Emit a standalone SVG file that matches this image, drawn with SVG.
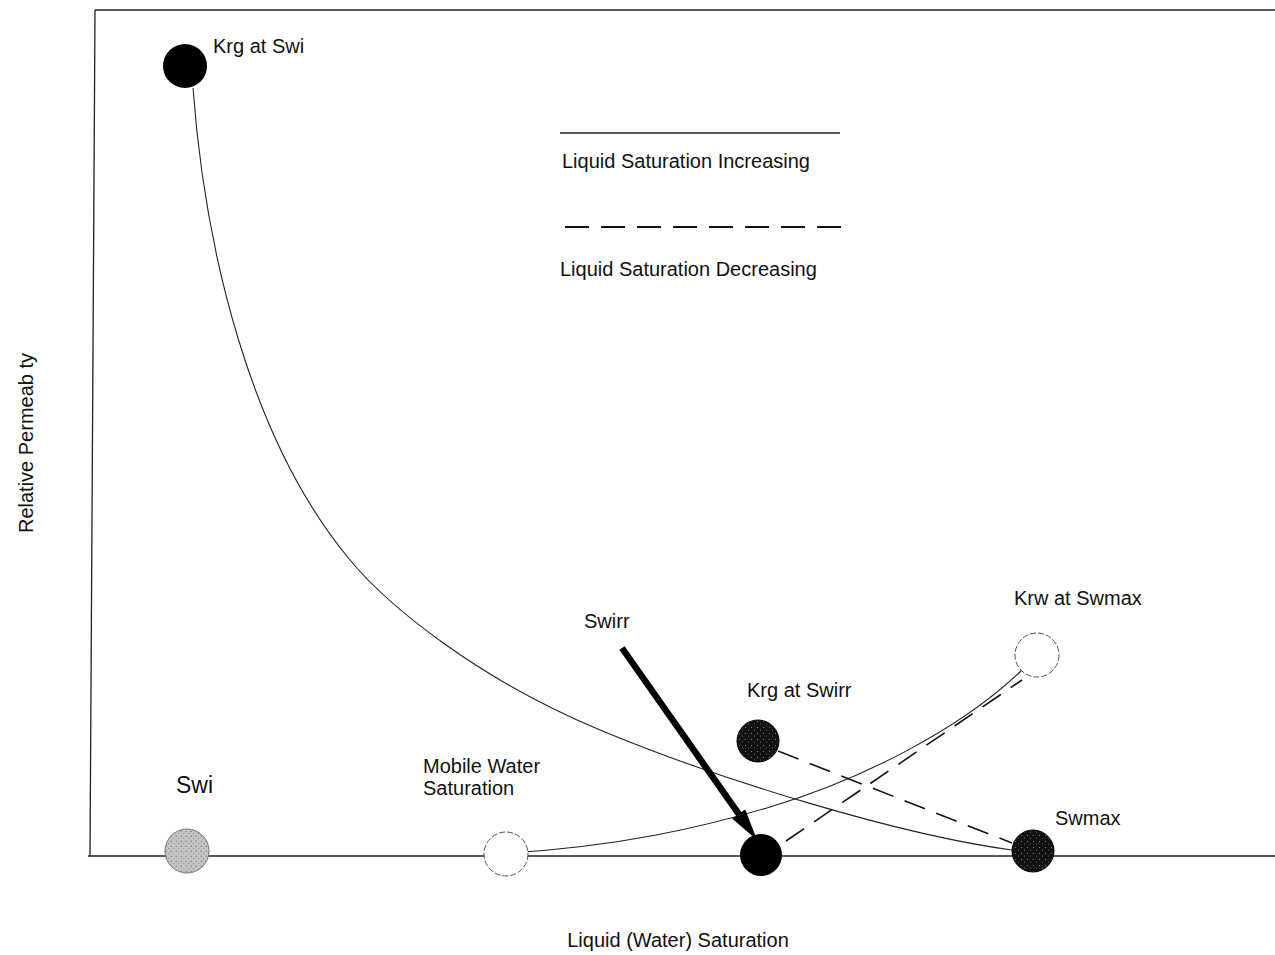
<svg xmlns="http://www.w3.org/2000/svg" width="1275" height="955" viewBox="0 0 1275 955">
  <style>
    .t { font-family: "Liberation Sans", Arial, sans-serif; font-size: 20px; fill: #111; }
    .axis { stroke: #222; stroke-width: 1.3; fill: none; }
    .curve { stroke: #222; stroke-width: 1.1; fill: none; }
    .dash { stroke: #111; stroke-width: 1.6; fill: none; stroke-dasharray: 22 12; }
    .black { fill: #000; }
    .open { fill: #fff; stroke: #555; stroke-width: 1; stroke-dasharray: 6 2; }
  </style>
  <defs>
    <pattern id="speck" width="6" height="6" patternUnits="userSpaceOnUse">
      <rect width="6" height="6" fill="#111"/>
      <circle cx="1.5" cy="1.5" r="0.6" fill="#888"/>
      <circle cx="4.5" cy="4" r="0.5" fill="#777"/>
    </pattern>
    <pattern id="grayspeck" width="5" height="5" patternUnits="userSpaceOnUse">
      <rect width="5" height="5" fill="#c4c4c4"/>
      <circle cx="1.2" cy="1.2" r="0.8" fill="#888"/>
      <circle cx="3.7" cy="3.5" r="0.7" fill="#999"/>
    </pattern>
    <marker id="head" viewBox="0 0 32 16" markerUnits="userSpaceOnUse" markerWidth="32" markerHeight="16" refX="16" refY="8" orient="auto">
      <path d="M0,0 L32,8 L0,16 z" fill="#000"/>
    </marker>
  </defs>

  <g id="frame">
    <line class="axis" x1="95" y1="10" x2="1275" y2="10"/>
    <line class="axis" x1="95" y1="10" x2="90" y2="856"/>
    <line class="axis" x1="88" y1="856" x2="1275" y2="856"/>
  </g>

  <g id="connectors">
    <path id="gas-curve" class="curve" d="M193,88 C205,250 250,440 350,560 C390,608 480,680 600,730 C720,780 900,835 1012,850"/>
    <path id="water-curve" class="curve" d="M510,853 C620,846 700,828 770,807 C860,780 960,730 1022,670"/>
    <line id="gas-dec" class="dash" x1="778" y1="751" x2="1012" y2="843"/>
    <line id="water-dec" class="dash" x1="786" y1="841" x2="1022" y2="680"/>
    <line id="swirr-arrow" x1="622" y1="648" x2="747.8" y2="826.9" stroke="#000" stroke-width="6.5" marker-end="url(#head)"/>
  </g>

  <g id="legend">
    <line class="axis" x1="560" y1="133" x2="840" y2="133"/>
    <text class="t" x="562" y="168">Liquid Saturation Increasing</text>
    <line x1="565" y1="227" x2="842" y2="227" stroke="#111" stroke-width="1.8" stroke-dasharray="24 12"/>
    <text class="t" x="560" y="276">Liquid Saturation Decreasing</text>
  </g>

  <g id="node-krg-swi">
    <circle class="black" cx="185" cy="66" r="22"/>
    <text class="t" x="213" y="53">Krg at Swi</text>
  </g>

  <g id="node-swi">
    <circle cx="187" cy="851" r="22" fill="url(#grayspeck)" stroke="#777" stroke-width="1"/>
    <text class="t" x="176" y="793" style="font-size:23px">Swi</text>
  </g>

  <g id="node-mobile">
    <circle class="open" cx="506" cy="854" r="22"/>
    <text class="t" x="423" y="773">Mobile Water</text>
    <text class="t" x="423" y="795">Saturation</text>
  </g>

  <g id="node-swirr">
    <circle class="black" cx="761" cy="855" r="21"/>
    <text class="t" x="584" y="628">Swirr</text>
  </g>

  <g id="node-krg-swirr">
    <circle cx="758" cy="741" r="21" fill="url(#speck)" stroke="#000" stroke-width="1"/>
    <text class="t" x="747" y="697">Krg at Swirr</text>
  </g>

  <g id="node-krw-swmax">
    <circle class="open" cx="1037" cy="655" r="22"/>
    <text class="t" x="1014" y="605">Krw at Swmax</text>
  </g>

  <g id="node-swmax">
    <circle cx="1033" cy="851" r="21" fill="url(#speck)" stroke="#000" stroke-width="1"/>
    <text class="t" x="1055" y="825">Swmax</text>
  </g>

  <g id="axis-labels">
    <text class="t" x="678" y="947" text-anchor="middle">Liquid (Water) Saturation</text>
    <text class="t" transform="translate(33,443) rotate(-90)" text-anchor="middle">Relative Permeab  ty</text>
  </g>
</svg>
